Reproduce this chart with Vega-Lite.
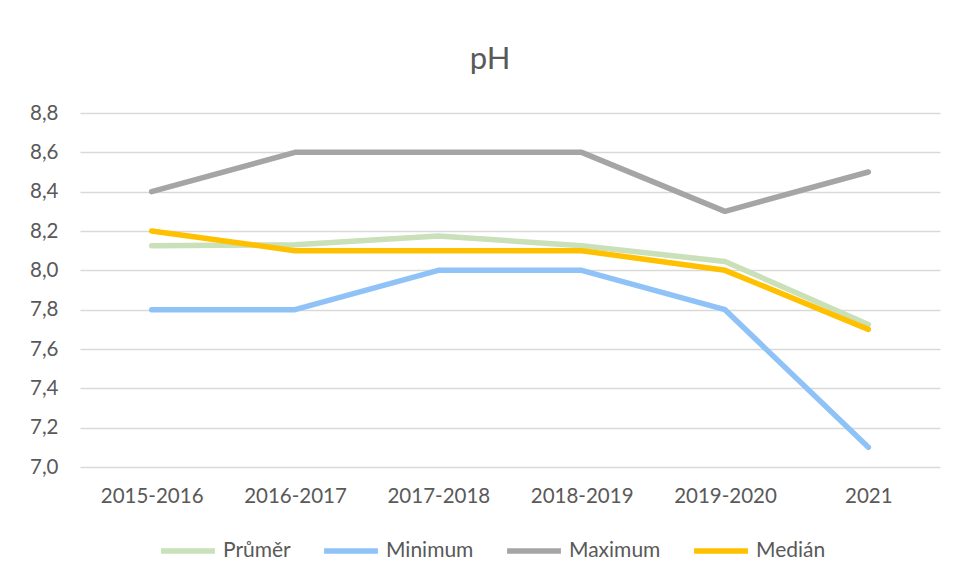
{
  "$schema": "https://vega.github.io/schema/vega-lite/v6.json",
  "autosize": "none",
  "width": 860,
  "height": 354,
  "padding": {"left": 80, "top": 113, "right": 16, "bottom": 116},
  "background": "white",
  "title": {"text": "pH", "fontSize": 31, "font": "Lato", "fontWeight": "normal", "color": "#595959", "anchor": "middle", "offset": 27, "dx": -20},
  "data": {"values": [
    {"obdobi": "2015-2016", "serie": "Průměr", "pH": 8.125},
    {"obdobi": "2016-2017", "serie": "Průměr", "pH": 8.13},
    {"obdobi": "2017-2018", "serie": "Průměr", "pH": 8.175},
    {"obdobi": "2018-2019", "serie": "Průměr", "pH": 8.125},
    {"obdobi": "2019-2020", "serie": "Průměr", "pH": 8.045},
    {"obdobi": "2021", "serie": "Průměr", "pH": 7.725},
    {"obdobi": "2015-2016", "serie": "Minimum", "pH": 7.8},
    {"obdobi": "2016-2017", "serie": "Minimum", "pH": 7.8},
    {"obdobi": "2017-2018", "serie": "Minimum", "pH": 8.0},
    {"obdobi": "2018-2019", "serie": "Minimum", "pH": 8.0},
    {"obdobi": "2019-2020", "serie": "Minimum", "pH": 7.8},
    {"obdobi": "2021", "serie": "Minimum", "pH": 7.1},
    {"obdobi": "2015-2016", "serie": "Maximum", "pH": 8.4},
    {"obdobi": "2016-2017", "serie": "Maximum", "pH": 8.6},
    {"obdobi": "2017-2018", "serie": "Maximum", "pH": 8.6},
    {"obdobi": "2018-2019", "serie": "Maximum", "pH": 8.6},
    {"obdobi": "2019-2020", "serie": "Maximum", "pH": 8.3},
    {"obdobi": "2021", "serie": "Maximum", "pH": 8.5},
    {"obdobi": "2015-2016", "serie": "Medián", "pH": 8.2},
    {"obdobi": "2016-2017", "serie": "Medián", "pH": 8.1},
    {"obdobi": "2017-2018", "serie": "Medián", "pH": 8.1},
    {"obdobi": "2018-2019", "serie": "Medián", "pH": 8.1},
    {"obdobi": "2019-2020", "serie": "Medián", "pH": 8.0},
    {"obdobi": "2021", "serie": "Medián", "pH": 7.7}
  ]},
  "mark": {"type": "line", "strokeWidth": 5.5, "strokeCap": "round", "strokeJoin": "round"},
  "encoding": {
    "x": {"field": "obdobi", "type": "nominal", "sort": null, "title": null,
      "scale": {"type": "point", "padding": 0.5},
      "axis": {"labelAngle": 0, "ticks": false, "domain": false, "grid": false, "labelPadding": 19, "labelFontSize": 20.5, "labelFont": "Lato", "labelColor": "#595959"}},
    "y": {"field": "pH", "type": "quantitative", "title": null,
      "scale": {"domain": [7.0, 8.8], "nice": false, "zero": false},
      "axis": {"values": [7.0, 7.2, 7.4, 7.6, 7.8, 8.0, 8.2, 8.4, 8.6, 8.8], "labelExpr": "replace(format(datum.value, '.1f'), '.', ',')", "ticks": false, "domain": false, "grid": true, "gridColor": "#D9D9D9", "gridWidth": 1.5, "labelPadding": 22, "labelFontSize": 20.5, "labelFont": "Lato", "labelColor": "#595959"}},
    "color": {"field": "serie", "type": "nominal", "title": null,
      "scale": {"domain": ["Průměr", "Minimum", "Maximum", "Medián"], "range": ["#C9E0B9", "#8FC3F7", "#A5A5A5", "#FFC000"]},
      "legend": {"orient": "none", "legendX": 78, "legendY": 408, "direction": "horizontal", "symbolType": "stroke", "symbolSize": 2900, "symbolStrokeWidth": 5.5, "labelFontSize": 21, "labelFont": "Lato", "labelColor": "#595959", "labelOffset": 5, "columnPadding": 22}}
  },
  "config": {"view": {"stroke": null}}
}
